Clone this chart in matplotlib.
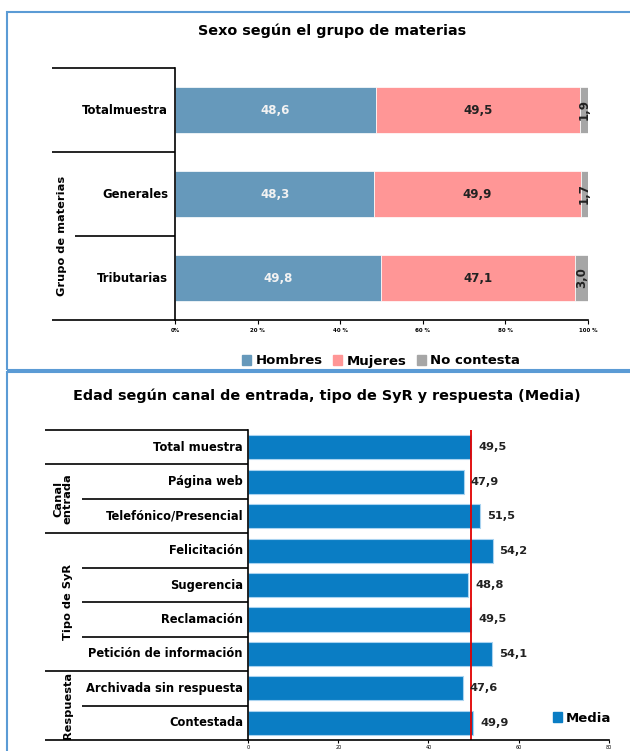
import matplotlib
matplotlib.use("Agg")
import matplotlib.pyplot as plt
from matplotlib.lines import Line2D
from matplotlib.patches import Rectangle, Patch

# ---------------- data ----------------
top_title = "Sexo según el grupo de materias"
top_categories = ["Total muestra", "Generales", "Tributarias"]
top_cat_labels = ["Totalmuestra", "Generales", "Tributarias"]
hombres = [48.6, 48.3, 49.8]
mujeres = [49.5, 49.9, 47.1]
no_contesta = [1.9, 1.7, 3.0]
top_series_names = ["Hombres", "Mujeres", "No contesta"]
top_ticks = [0, 20, 40, 60, 80, 100]
top_tick_labels = ["0%", "20 %", "40 %", "60 %", "80 %", "100 %"]
top_group = "Grupo de materias"

bot_title = "Edad según canal de entrada, tipo de SyR y respuesta (Media)"
bot_categories = ["Total muestra", "Página web", "Telefónico/Presencial",
                  "Felicitación", "Sugerencia", "Reclamación",
                  "Petición de información", "Archivada sin respuesta", "Contestada"]
bot_values = [49.5, 47.9, 51.5, 54.2, 48.8, 49.5, 54.1, 47.6, 49.9]
bot_reference = 49.5
bot_series_name = "Media"
bot_ticks = [0, 20, 40, 60, 80]
bot_groups = ["Canal\nentrada", "Tipo de SyR", "Respuesta"]

# ---------------- figure ----------------
W, H = 630, 751
fig = plt.figure(figsize=(W / 100, H / 100), dpi=100)
plt.rcParams['font.family'] = ['DejaVu Sans']

def fx(x):
    return x / W

def fy(y):
    return 1 - y / H

def hline(x0, x1, y, color="black", lw=1.2):
    fig.add_artist(Line2D([fx(x0), fx(x1)], [fy(y), fy(y)], color=color, lw=lw,
                          transform=fig.transFigure, solid_capstyle="butt"))

frame_col = "#5B9BD5"
fig.add_artist(Rectangle((fx(7), fy(370)), fx(700), fy(12) - fy(370), fill=False,
                         edgecolor=frame_col, lw=1.5, transform=fig.transFigure))
fig.add_artist(Rectangle((fx(7), fy(800)), fx(700), fy(372) - fy(800), fill=False,
                         edgecolor=frame_col, lw=1.5, transform=fig.transFigure))

# ---------------- top chart ----------------
c_h, c_m, c_n = "#6699BB", "#FF9696", "#A6A6A6"
axl, axr, axt, axb = 175, 588, 68, 320
ax1 = fig.add_axes([fx(axl), fy(axb), fx(axr) - fx(axl), fy(axt) - fy(axb)])
ypos = list(range(len(top_categories)))
bh = 0.55
left_m = [h for h in hombres]
left_n = [h + m for h, m in zip(hombres, mujeres)]
ax1.barh(ypos, hombres, height=bh, color=c_h, edgecolor="white", lw=0.5, label=top_series_names[0])
ax1.barh(ypos, mujeres, left=left_m, height=bh, color=c_m, edgecolor="white", lw=0.5, label=top_series_names[1])
ax1.barh(ypos, no_contesta, left=left_n, height=bh, color=c_n, edgecolor="white", lw=0.5, label=top_series_names[2])
for i in ypos:
    ax1.text(hombres[i] / 2, i, f"{hombres[i]:.1f}".replace(".", ","), color="#F2F2F2",
             ha="center", va="center", fontsize=8.5, fontweight="bold")
    ax1.text(left_m[i] + mujeres[i] / 2, i, f"{mujeres[i]:.1f}".replace(".", ","), color="#222222",
             ha="center", va="center", fontsize=8.5, fontweight="bold")
    ax1.text(left_n[i] + no_contesta[i] / 2, i, f"{no_contesta[i]:.1f}".replace(".", ","), color="#222222",
             ha="center", va="center", fontsize=8.5, fontweight="bold", rotation=90)
ax1.set_xlim(0, 100)
ax1.set_ylim(len(top_categories) - 0.5, -0.5)
ax1.set_xticks(top_ticks)
ax1.set_xticklabels(top_tick_labels, fontsize=4, fontweight="bold")
ax1.tick_params(axis="x", length=3, width=0.8, pad=3)
ax1.set_yticks([])
for s in ["top", "right"]:
    ax1.spines[s].set_visible(False)
ax1.spines["left"].set_linewidth(1.2)
ax1.spines["bottom"].set_linewidth(1.2)

fig.text(fx(332), fy(31), top_title, ha="center", va="center", fontsize=10.4, fontweight="bold")
row_h = (axb - axt) / 3
for i, lab in enumerate(top_cat_labels):
    yc = axt + row_h * (i + 0.5)
    fig.text(fx(168), fy(yc), lab, ha="right", va="center", fontsize=8.4, fontweight="bold")
hline(52, axl, axt)
hline(52, axl, axt + row_h)
hline(75, axl, axt + 2 * row_h)
hline(52, axl, axb)
fig.text(fx(62), fy(axt + 2 * row_h), top_group, rotation=90, ha="center", va="center",
         fontsize=8.2, fontweight="bold")
fig.legend(handles=[Patch(color=c_h, label=top_series_names[0]),
                    Patch(color=c_m, label=top_series_names[1]),
                    Patch(color=c_n, label=top_series_names[2])],
           loc="center", bbox_to_anchor=(fx(381), fy(361)), ncol=3, frameon=False,
           handlelength=0.7, handleheight=0.7, handletextpad=0.3, columnspacing=0.8,
           prop={"size": 9.5, "weight": "bold"})

# ---------------- bottom chart ----------------
c_b = "#0A7DC4"
bl, br, bt, bb = 248, 609, 430, 740
ax2 = fig.add_axes([fx(bl), fy(bb), fx(br) - fx(bl), fy(bt) - fy(bb)])
ypos2 = list(range(len(bot_categories)))
ax2.barh(ypos2, bot_values, height=0.7, color=c_b, edgecolor="#A9D3F0", lw=0.8)
for i, v in enumerate(bot_values):
    ax2.text(v + 1.5, i, f"{v:.1f}".replace(".", ","), ha="left", va="center",
             fontsize=8.2, fontweight="bold", color="#222222")
ax2.axvline(bot_reference, color="#E00000", lw=1.3)
ax2.set_xlim(0, 80)
ax2.set_ylim(len(bot_categories) - 0.5, -0.5)
ax2.set_xticks(bot_ticks)
ax2.set_xticklabels([str(t) for t in bot_ticks], fontsize=3.5)
ax2.tick_params(axis="x", length=2.5, width=0.8, pad=0.8)
ax2.set_yticks([])
for s in ["top", "right"]:
    ax2.spines[s].set_visible(False)
ax2.spines["left"].set_linewidth(1.2)
ax2.spines["bottom"].set_linewidth(1.2)

fig.text(fx(327), fy(396), bot_title, ha="center", va="center", fontsize=10.4, fontweight="bold")
rh = (bb - bt) / len(bot_categories)
for i, lab in enumerate(bot_categories):
    yc = bt + rh * (i + 0.5)
    fig.text(fx(243), fy(yc), lab, ha="right", va="center", fontsize=8.3, fontweight="bold")
full_rows = {0, 1, 3, 7}
for i in range(len(bot_categories) + 1):
    y = bt + rh * i
    x0 = 45 if (i in full_rows or i == len(bot_categories)) else 82
    hline(x0, bl, y)
fig.text(fx(63), fy(bt + rh * 2), bot_groups[0], rotation=90, ha="center", va="center",
         fontsize=8.2, fontweight="bold", linespacing=0.95)
fig.text(fx(68), fy(bt + rh * 5), bot_groups[1], rotation=90, ha="center", va="center",
         fontsize=8.2, fontweight="bold")
fig.text(fx(68), fy(bt + rh * 8), bot_groups[2], rotation=90, ha="center", va="center",
         fontsize=8.2, fontweight="bold")
fig.legend(handles=[Patch(color=c_b, label=bot_series_name)], loc="center",
           bbox_to_anchor=(fx(582), fy(718)), frameon=False,
           handlelength=0.7, handleheight=0.7, handletextpad=0.3,
           prop={"size": 9.5, "weight": "bold"})

fig.savefig("out.png", dpi=100, facecolor="white")
